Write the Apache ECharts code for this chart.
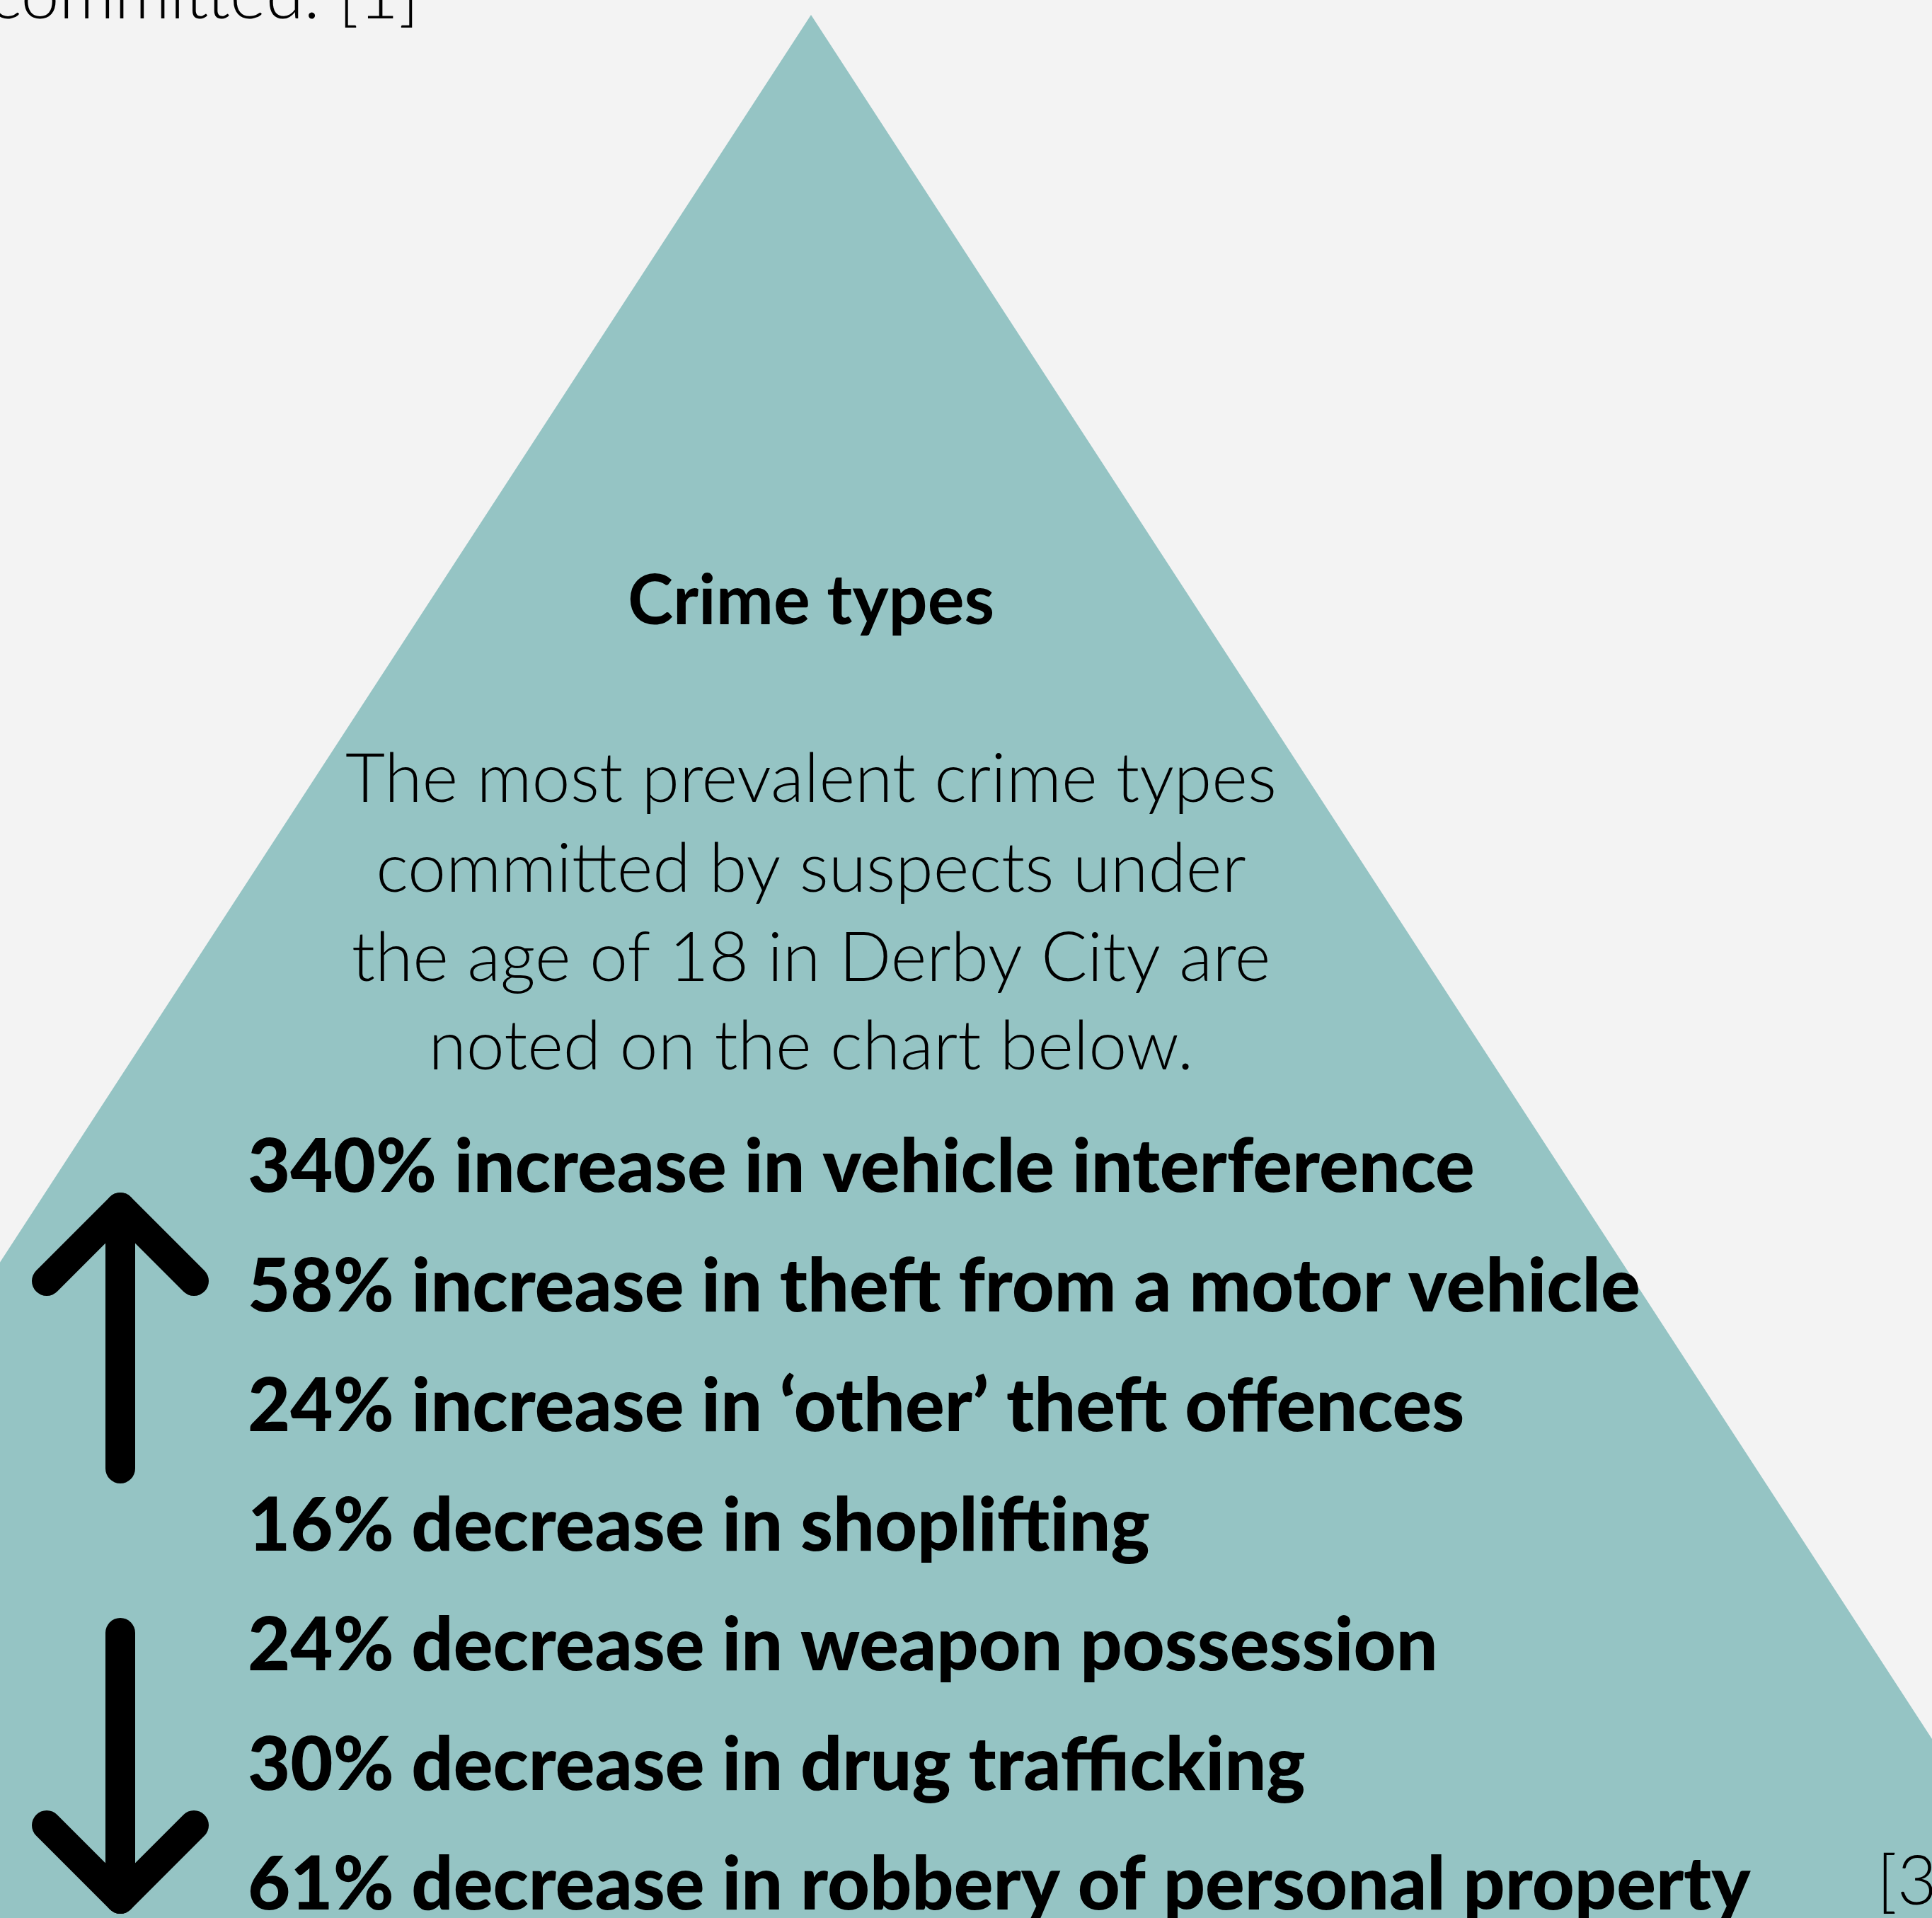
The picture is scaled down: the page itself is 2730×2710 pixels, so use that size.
<!DOCTYPE html>
<html>
<head>
<meta charset="utf-8">
<script src="https://cdn.jsdelivr.net/npm/echarts@6/dist/echarts.min.js"></script>
<style>
html,body{margin:0;padding:0;background:#f3f3f3;}
#chart{width:2730px;height:2710px;}
</style>
</head>
<body>
<div id="chart"></div>
<script>
// ---- data ----
const title = 'Crime types';
const introLines = [
  'The most prevalent crime types',
  'committed by suspects under',
  'the age of 18 in Derby City are',
  'noted on the chart below.'
];
const changePct = [340, 58, 24, 16, 24, 30, 61];
const changeDir = ['increase', 'increase', 'increase', 'decrease', 'decrease', 'decrease', 'decrease'];
const crimeTypes = [
  'vehicle interference',
  'theft from a motor vehicle',
  '‘other’ theft offences',
  'shoplifting',
  'weapon possession',
  'drug trafficking',
  'robbery of personal property'
];
const topNote = 'committed. [1]';
const sourceNote = '[3]';

// ---- chart ----
const chart = echarts.init(document.getElementById('chart'));
const lightFont = 'Lato';
const heavyFont = 'Lato';
const TEAL = '#95c4c4';

const graphics = [];
// triangle
graphics.push({
  type: 'polygon', z: 0,
  shape: { points: [[1146, 21], [-661, 2800], [2953, 2800]] },
  style: { fill: TEAL }
});
// title
graphics.push({
  type: 'text', z: 5, x: 1146, y: 851,
  style: { text: title, fontFamily: heavyFont, fontWeight: 'bold', fontSize: 97, fill: '#000', align: 'center', verticalAlign: 'middle' }
});
const introY = [1102, 1229, 1355, 1480];
introLines.forEach((t, i) => {
  graphics.push({
    type: 'text', z: 5, x: 1146, y: introY[i],
    style: { text: t, fontFamily: lightFont, fontWeight: 300, fontSize: 97, fill: '#000', align: 'center', verticalAlign: 'middle' }
  });
});
// top cut text
graphics.push({
  type: 'text', z: 5, x: 592, y: -5,
  style: { text: topNote, fontFamily: lightFont, fontWeight: 300, fontSize: 97, fill: '#000', align: 'right', verticalAlign: 'middle' }
});
// source note
graphics.push({
  type: 'text', z: 5, x: 2652, y: 2660,
  style: { text: sourceNote, fontFamily: lightFont, fontWeight: 300, fontSize: 97, fill: '#000', align: 'left', verticalAlign: 'middle' }
});
// arrows
const arrowStyle = { stroke: '#000', lineWidth: 42, lineCap: 'round', lineJoin: 'round', fill: null };
graphics.push({ type: 'polyline', z: 4, shape: { points: [[170, 1706], [170, 2075]] }, style: arrowStyle });
graphics.push({ type: 'polyline', z: 4, shape: { points: [[66, 1810], [170, 1706], [274, 1810]] }, style: arrowStyle });
graphics.push({ type: 'polyline', z: 4, shape: { points: [[170, 2307], [170, 2683]] }, style: arrowStyle });
graphics.push({ type: 'polyline', z: 4, shape: { points: [[66, 2579], [170, 2683], [274, 2579]] }, style: arrowStyle });

const option = {
  backgroundColor: '#f3f3f3',
  animation: false,
  graphic: graphics,
  grid: { left: 350, top: 1650, width: 2000, height: 1014 },
  xAxis: { type: 'value', min: 0, max: 1, show: false },
  yAxis: { type: 'value', min: 0, max: 6, inverse: true, show: false },
  series: [{
    type: 'scatter',
    z: 6,
    symbolSize: 0,
    silent: true,
    itemStyle: { opacity: 1 },
    data: changePct.map((p, i) => [0, i]),
    label: {
      show: true,
      position: 'right',
      distance: 0,
      opacity: 1,
      fontFamily: heavyFont,
      fontWeight: 900,
      fontSize: 104,
      color: '#000000',
      textBorderWidth: 0,
      formatter: (p) => changePct[p.dataIndex] + '% ' + changeDir[p.dataIndex] + ' in ' + crimeTypes[p.dataIndex]
    }
  }]
};
chart.setOption(option);
</script>
</body>
</html>
